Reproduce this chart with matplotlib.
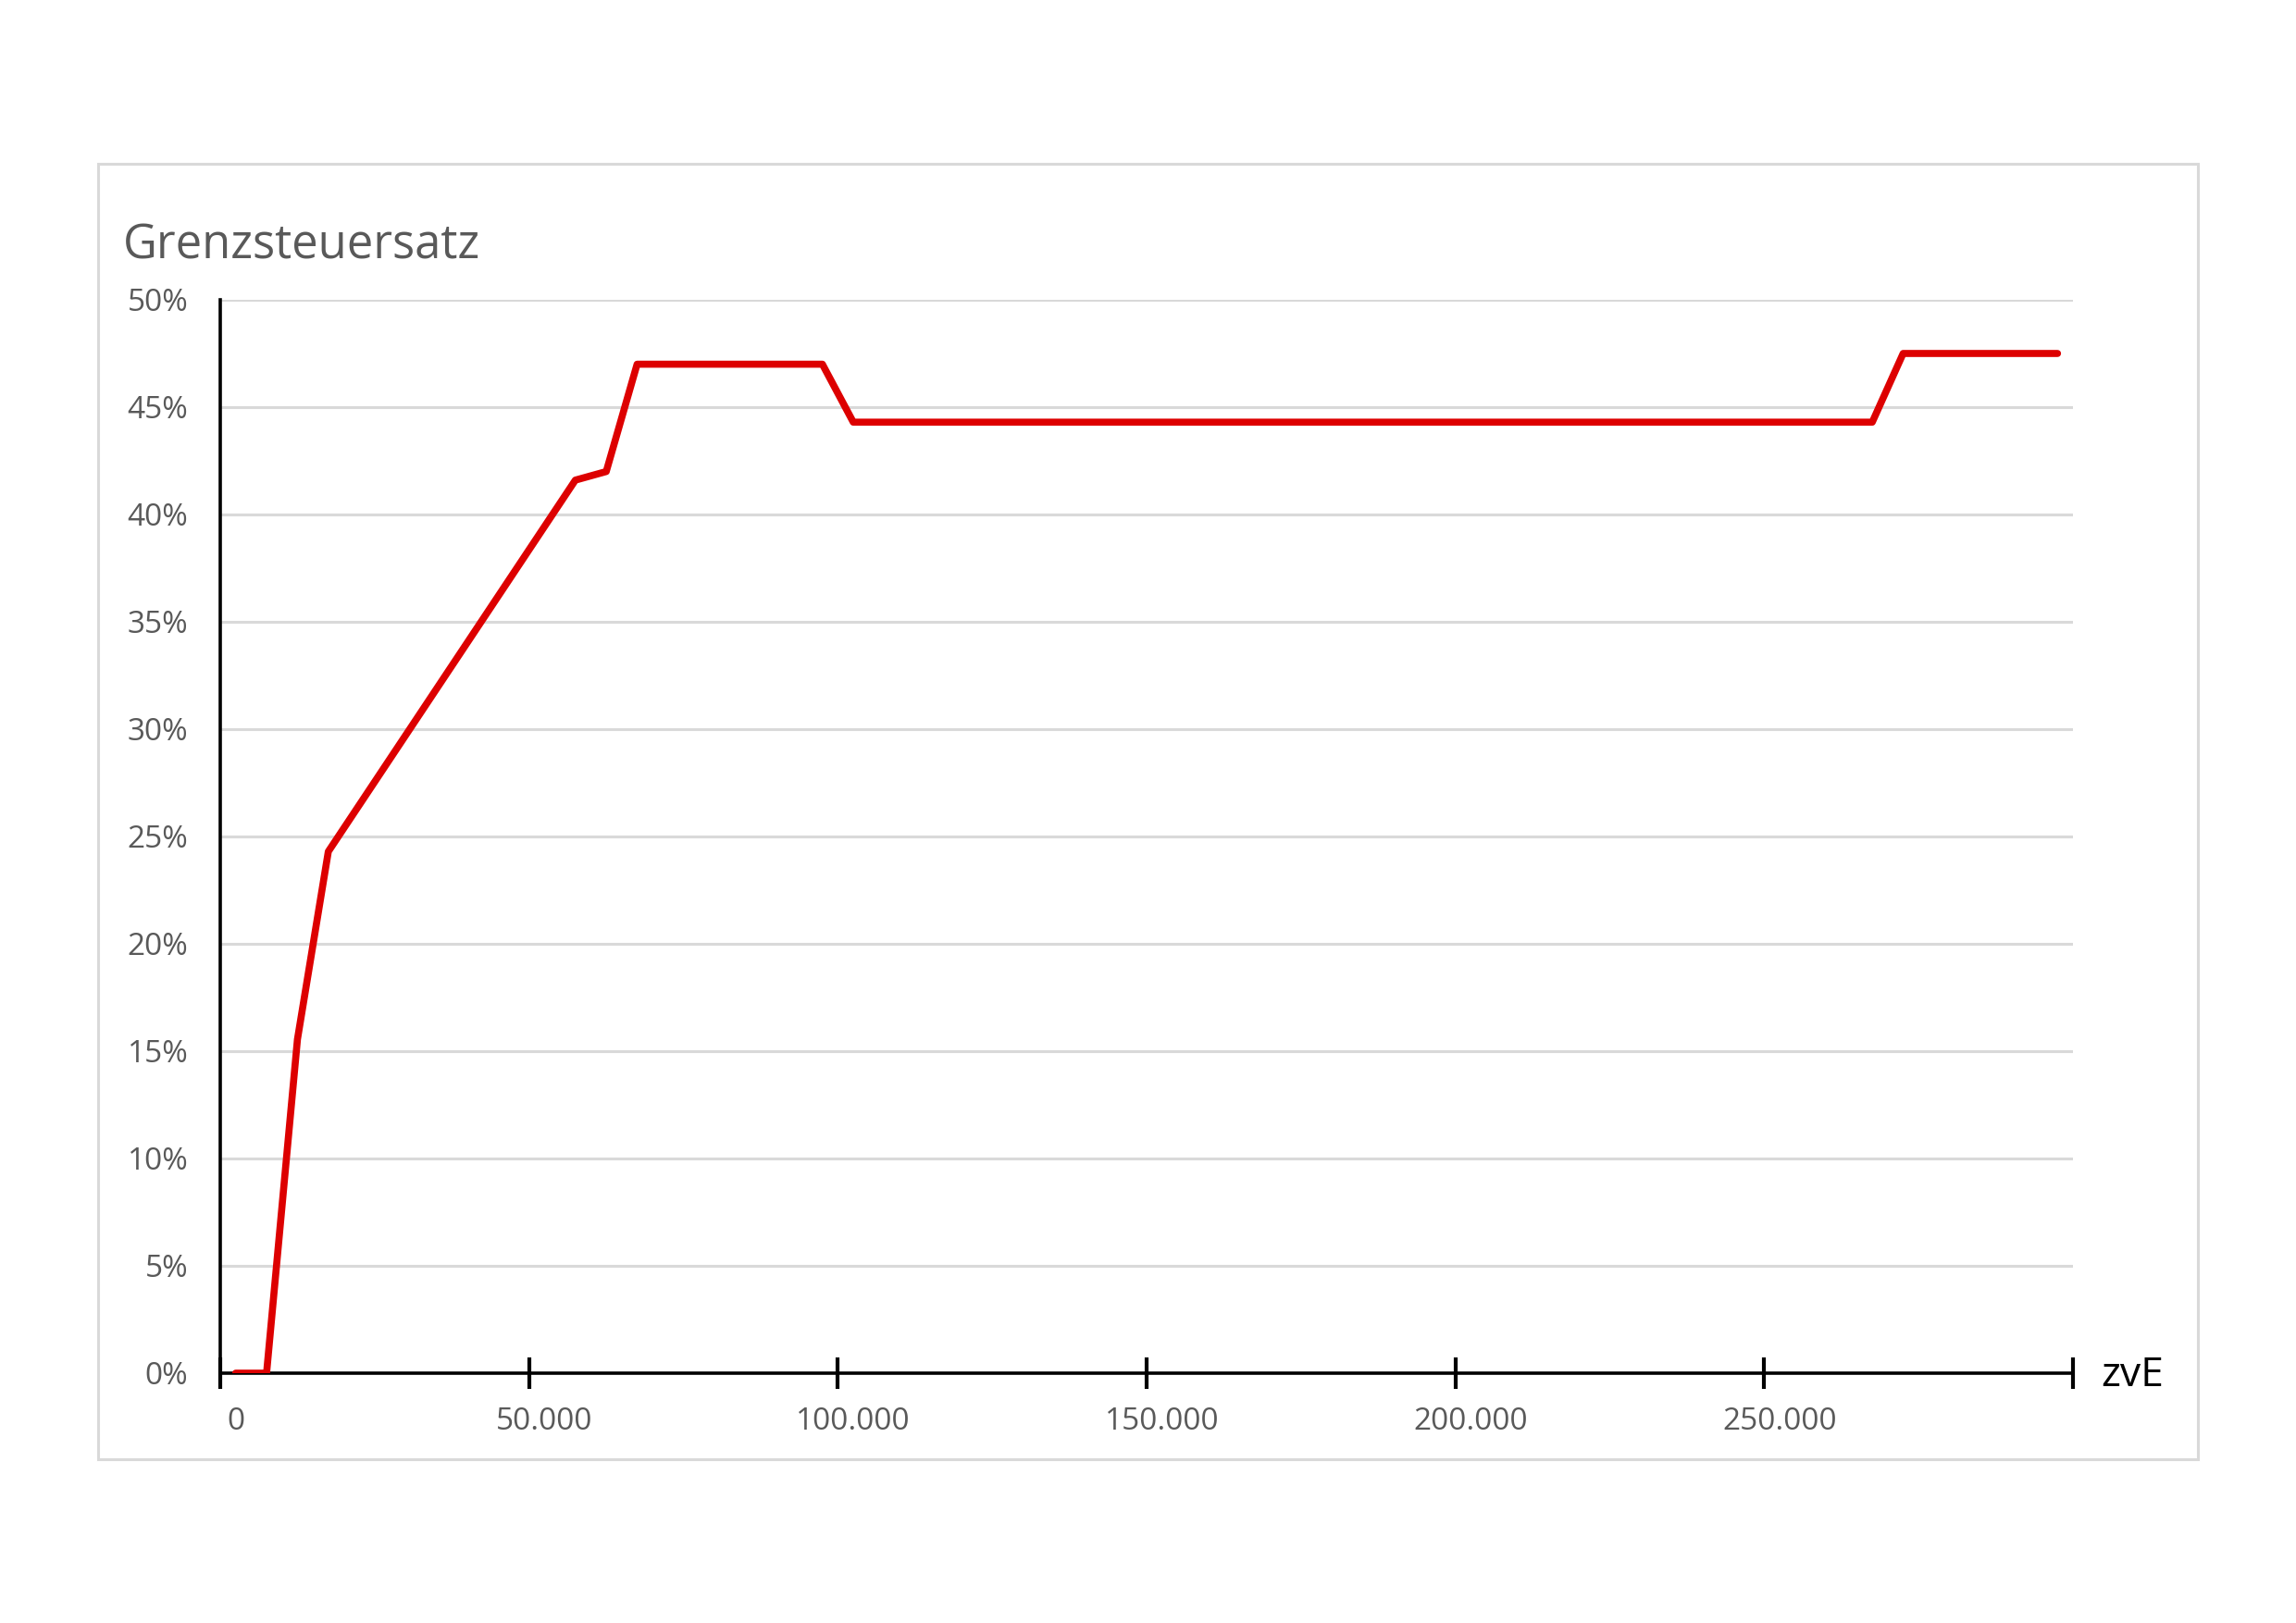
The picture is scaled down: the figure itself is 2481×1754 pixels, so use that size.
import numpy as np
import matplotlib
matplotlib.use("Agg")
import matplotlib.pyplot as plt
from matplotlib.patches import Rectangle
from matplotlib.ticker import FixedLocator, FuncFormatter

# zu versteuerndes Einkommen (Knickpunkte) und Grenzsteuersatz in %
zve = [0, 5000, 10000, 15000, 55000, 60000, 65000, 95000, 100000, 265000, 270000, 295000]
rate = [0, 0, 15.55, 24.3, 41.6, 42.0, 47.0, 47.0, 44.3, 44.3, 47.5, 47.5]

x_labels = [0, 50000, 100000, 150000, 200000, 250000]
y_ticks = [0, 5, 10, 15, 20, 25, 30, 35, 40, 45, 50]

plt.rcParams["font.family"] = ["Open Sans", "DejaVu Sans"]
GRAY = "#595959"

fig = plt.figure(figsize=(24.81, 17.54), dpi=100)
fig.patches.append(Rectangle((106 / 2481, 1 - 1577 / 1754), 2269 / 2481, 1400 / 1754,
                             transform=fig.transFigure, fill=False,
                             edgecolor="#D9D9D9", linewidth=2.2))

ax = fig.add_axes([238 / 2481, 1 - 1484 / 1754, 2002 / 2481, 1160 / 1754])
ax.plot(zve, rate, color="#DD0000", linewidth=5.5, solid_capstyle="round",
        solid_joinstyle="round", zorder=3)

ax.set_xlim(-2500, 297500)
ax.set_ylim(0, 50)

# grid
ax.set_yticks(y_ticks)
ax.yaxis.set_major_formatter(FuncFormatter(lambda v, p: f"{int(v)}%"))
ax.grid(axis="y", color="#D9D9D9", linewidth=2.2)
ax.set_axisbelow(True)
ax.tick_params(axis="y", length=0, pad=25, labelsize=24, labelcolor=GRAY)

# x axis: tick marks between categories, labels on the values
ax.xaxis.set_major_locator(FixedLocator(np.arange(-2500, 297501, 50000)))
ax.xaxis.set_major_formatter(FuncFormatter(lambda v, p: ""))
ax.xaxis.set_minor_locator(FixedLocator(x_labels))
ax.xaxis.set_minor_formatter(FuncFormatter(lambda v, p: f"{int(v):,}".replace(",", ".")))
ax.tick_params(axis="x", which="major", direction="inout", length=24, width=3, color="black")
ax.tick_params(axis="x", which="minor", length=0, pad=26, labelsize=24, labelcolor=GRAY)

for s in ["top", "right"]:
    ax.spines[s].set_visible(False)
ax.spines["left"].set_linewidth(2.6)
ax.spines["bottom"].set_linewidth(2.6)
ax.spines["left"].set_color("black")
ax.spines["bottom"].set_color("black")

fig.text(133 / 2481, 1 - 280 / 1754, "Grenzsteuersatz", fontsize=36.5, color=GRAY,
         ha="left", va="baseline")
fig.text(2270 / 2481, 1 - 1487 / 1754, "zvE", fontsize=32, color="black",
         ha="left", va="center")

fig.savefig("out.png", dpi=100)
